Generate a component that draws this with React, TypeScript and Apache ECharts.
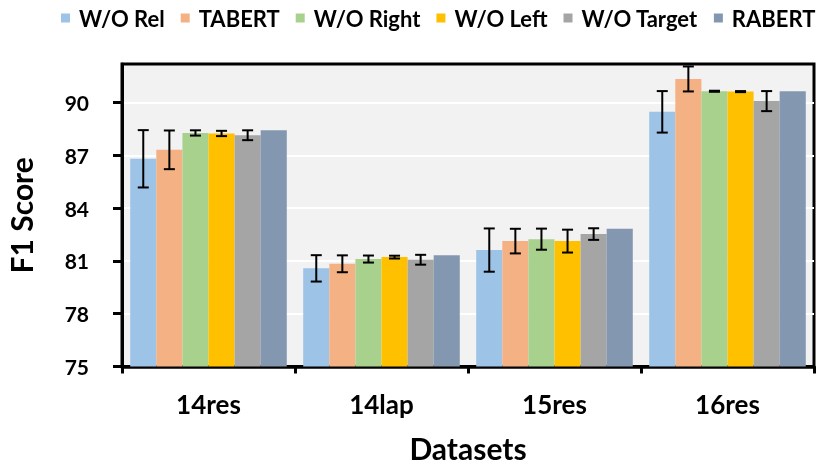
import React, { useEffect, useRef } from "react";
import * as echarts from "echarts";

const categories = ["14res", "14lap", "15res", "16res"];
const seriesNames = ["W/O Rel", "TABERT", "W/O Right", "W/O Left", "W/O Target", "RABERT"];
const colors = ["#9dc3e6", "#f4b183", "#a9d18e", "#ffc000", "#a5a5a5", "#8497b0"];

const woRel = [86.81, 80.58, 81.62, 89.48];
const tabert = [87.32, 80.84, 82.13, 91.35];
const woRight = [88.28, 81.11, 82.24, 90.65];
const woLeft = [88.25, 81.22, 82.13, 90.63];
const woTarget = [88.15, 81.07, 82.53, 90.09];
const rabert = [88.44, 81.32, 82.83, 90.65];

const woRelErr = [1.63, 0.75, 1.23, 1.18];
const tabertErr = [1.1, 0.48, 0.7, 0.71];
const woRightErr = [0.15, 0.2, 0.6, 0.03];
const woLeftErr = [0.15, 0.08, 0.65, 0.03];
const woTargetErr = [0.28, 0.28, 0.33, 0.57];

const yTicks = [75, 78, 81, 84, 87, 90];
const yMin = 75;
const yMax = 92.2;

const values = [woRel, tabert, woRight, woLeft, woTarget, rabert];
const errors = [woRelErr, tabertErr, woRightErr, woLeftErr, woTargetErr];

const CAT_GAP = 0.095;
const FONT = "Lato";

export default function App() {
  const ref = useRef<HTMLDivElement>(null);
  useEffect(() => {
    if (!ref.current) return;
    const chart = echarts.init(ref.current, null, { renderer: "svg" });
    const errData: number[][] = [];
    errors.forEach((errs, s) => {
      errs.forEach((e, c) => {
        const v = values[s][c];
        errData.push([c, s, v - e, v + e]);
      });
    });
    const nSeries = seriesNames.length;
    const barSeries = seriesNames.map((name, i) => ({
      name,
      type: "bar",
      data: values[i],
      barGap: "0%",
      barCategoryGap: CAT_GAP * 100 + "%",
      itemStyle: { color: colors[i] },
      z: 2,
    }));
    const errSeries = {
      type: "custom",
      name: "err",
      data: errData,
      encode: { x: 0, y: [2, 3] },
      z: 5,
      renderItem: (params: any, api: any) => {
        const c = api.value(0);
        const s = api.value(1);
        const low = api.value(2);
        const high = api.value(3);
        const band = api.size([1, 0])[0];
        const groupW = band * (1 - CAT_GAP);
        const barW = groupW / nSeries;
        const base = api.coord([c, low]);
        const top = api.coord([c, high]);
        const x = base[0] - groupW / 2 + barW * (s + 0.5);
        const hw = 5.5;
        const st = { stroke: "#000", lineWidth: 2 };
        return {
          type: "group",
          children: [
            { type: "line", shape: { x1: x, y1: top[1], x2: x, y2: base[1] }, style: st },
            { type: "line", shape: { x1: x - hw, y1: top[1], x2: x + hw, y2: top[1] }, style: st },
            { type: "line", shape: { x1: x - hw, y1: base[1], x2: x + hw, y2: base[1] }, style: st },
          ],
        };
      },
    };
    chart.setOption({
      animation: false,
      textStyle: { fontFamily: FONT },
      legend: {
        data: seriesNames,
        top: 2,
        left: 56,
        icon: "rect",
        itemWidth: 9,
        itemHeight: 9,
        itemGap: 16,
        textStyle: {
          fontFamily: FONT,
          fontWeight: "bold",
          fontSize: 22,
          color: "#000",
          padding: [0, 0, 0, 4],
        },
      },
      grid: {
        left: 122,
        right: 7,
        top: 64,
        bottom: 100.5,
        show: true,
        backgroundColor: "#f2f2f2",
        borderColor: "#000",
        borderWidth: 3,
        containLabel: false,
        outerBoundsMode: "none",
      },
      xAxis: {
        type: "category",
        data: categories,
        name: "Datasets",
        nameLocation: "middle",
        nameGap: 66,
        nameTextStyle: { fontFamily: FONT, fontWeight: "bold", fontSize: 30, color: "#000" },
        axisLine: { lineStyle: { color: "#000", width: 3.5 } },
        axisTick: { show: true, length: 7, lineStyle: { color: "#000", width: 3 } },
        axisLabel: { margin: 24, fontFamily: FONT, fontWeight: "bold", fontSize: 26, color: "#000" },
        splitLine: { show: false },
      },
      yAxis: {
        type: "value",
        min: yMin,
        max: yMax,
        interval: 3,
        name: "F1 Score",
        nameLocation: "middle",
        nameGap: 86,
        nameTextStyle: { fontFamily: FONT, fontWeight: "bold", fontSize: 30, color: "#000" },
        axisLine: { show: true, lineStyle: { color: "#000", width: 3 } },
        axisTick: { show: true, length: 9, customValues: yTicks, lineStyle: { color: "#000", width: 3 } },
        axisLabel: { margin: 33, customValues: yTicks, fontFamily: FONT, fontWeight: "bold", fontSize: 21, color: "#000" },
        splitLine: { show: true, lineStyle: { color: "#ffffff", width: 2 } },
      },
      series: [...barSeries, errSeries],
    });
    return () => chart.dispose();
  }, []);
  return (
    <div
      ref={ref}
      style={{ position: "fixed", left: 0, top: 0, width: 821, height: 467 }}
    />
  );
}
